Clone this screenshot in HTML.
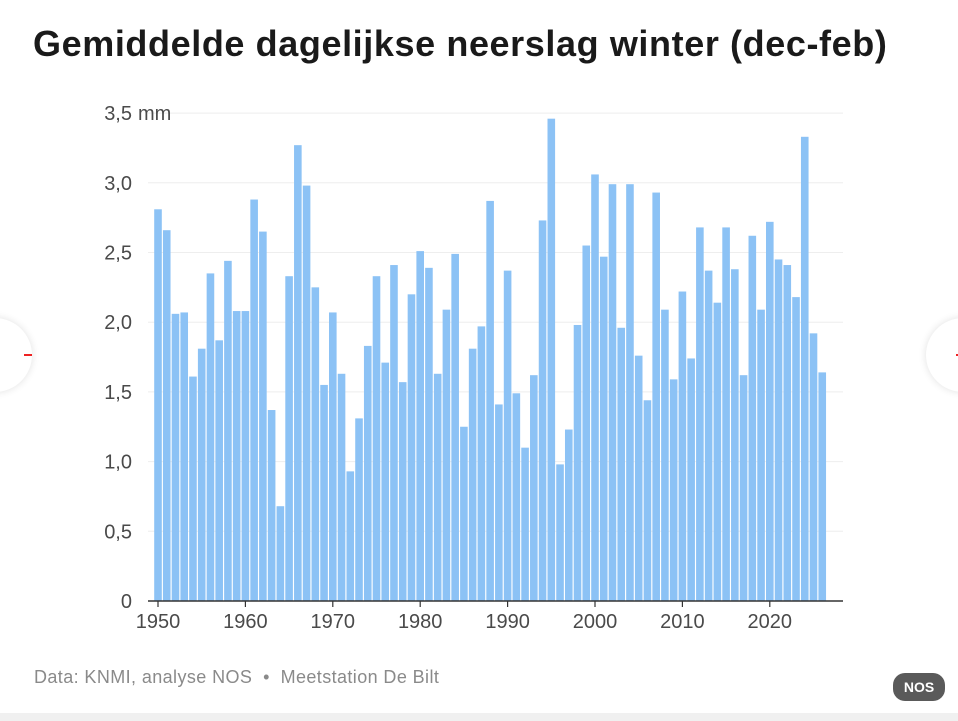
<!DOCTYPE html>
<html><head><meta charset="utf-8"><style>
body{margin:0;width:958px;height:721px;background:#fff;overflow:hidden;font-family:"Liberation Sans",sans-serif;position:relative}
#title{position:absolute;left:33px;top:23px;font-size:36px;font-weight:bold;color:#1a1a1a;letter-spacing:0.6px;margin:0}
#foot{position:absolute;left:34px;top:667px;font-size:18px;color:#8a8a8a;letter-spacing:0.4px}
#nos{position:absolute;left:893px;top:673px;width:52px;height:28px;border-radius:12px;background:#5a5a5a;color:#fff;font-weight:bold;font-size:14px;text-align:center;line-height:28px}
.side{position:absolute;top:318px;width:74px;height:74px;border-radius:50%;background:#fff;box-shadow:0 0 8px rgba(0,0,0,.12)}
#bottom{position:absolute;left:0;top:713px;width:958px;height:8px;background:#f0f0f0}
</style></head><body>
<h1 id="title">Gemiddelde dagelijkse neerslag winter (dec-feb)</h1>
<div class="side" style="left:-42px"><div style="position:absolute;right:0;top:36px;width:8px;height:2px;background:#e22"></div></div>
<div class="side" style="left:926px"><div style="position:absolute;left:30px;top:36px;width:8px;height:2px;background:#e22"></div></div>
<svg id="chart" width="958" height="721" style="position:absolute;left:0;top:0"></svg>
<div id="foot">Data: KNMI, analyse NOS &nbsp;•&nbsp; Meetstation De Bilt</div>
<div id="nos">NOS</div>
<div id="bottom"></div>
<script>
const years=[];for(let y=1950;y<=2026;y++)years.push(y);
const values=[2.81,2.66,2.06,2.07,1.61,1.81,2.35,1.87,2.44,2.08,2.08,2.88,2.65,1.37,0.68,2.33,3.27,2.98,2.25,1.55,2.07,1.63,0.93,1.31,1.83,2.33,1.71,2.41,1.57,2.20,2.51,2.39,1.63,2.09,2.49,1.25,1.81,1.97,2.87,1.41,2.37,1.49,1.10,1.62,2.73,3.46,0.98,1.23,1.98,2.55,3.06,2.47,2.99,1.96,2.99,1.76,1.44,2.93,2.09,1.59,2.22,1.74,2.68,2.37,2.14,2.68,2.38,1.62,2.62,2.09,2.72,2.45,2.41,2.18,3.33,1.92,1.64];
const yTicks=[0,0.5,1,1.5,2,2.5,3,3.5];
const yLabels=["0","0,5","1,0","1,5","2,0","2,5","3,0","3,5"];
const xTicks=[1950,1960,1970,1980,1990,2000,2010,2020];
const NS="http://www.w3.org/2000/svg",svg=document.getElementById('chart');
const X=y=>158+(y-1950)*8.74, Y=v=>601-v*139.4;
function el(t,a){const e=document.createElementNS(NS,t);for(const k in a)e.setAttribute(k,a[k]);svg.appendChild(e);return e;}
yTicks.forEach((t,i)=>{
 if(t>0){const g=el('line',{x1:148,x2:843,y1:Y(t),y2:Y(t),stroke:'#eeeeee','stroke-width':1});
 
 }
 const tx=el('text',{x:132,y:Y(t)+7,'text-anchor':'end','font-size':20,fill:'#4a4a4a','font-family':'Liberation Sans, sans-serif'});
 tx.textContent=yLabels[i];
 
 
 if(t===3.5){const u=el('text',{x:138,y:Y(t)+7,'font-size':20,fill:'#4a4a4a','font-family':'Liberation Sans, sans-serif'});u.textContent='mm';
 
 }
});
years.forEach((y,i)=>{
 const r=el('rect',{x:X(y)-3.8,y:Y(values[i]),width:7.6,height:values[i]*139.4,fill:'#8cc2f5'});
 
 
});
const ax=el('line',{x1:148,x2:843,y1:601,y2:601,stroke:'#333','stroke-width':1.5});


xTicks.forEach(t=>{
 const k=el('line',{x1:X(t),x2:X(t),y1:601,y2:607,stroke:'#333','stroke-width':1.2});
 
 
 const tx=el('text',{x:X(t),y:628,'text-anchor':'middle','font-size':20,fill:'#4a4a4a','font-family':'Liberation Sans, sans-serif'});
 tx.textContent=t;
 
 
});
</script>
</body></html>
